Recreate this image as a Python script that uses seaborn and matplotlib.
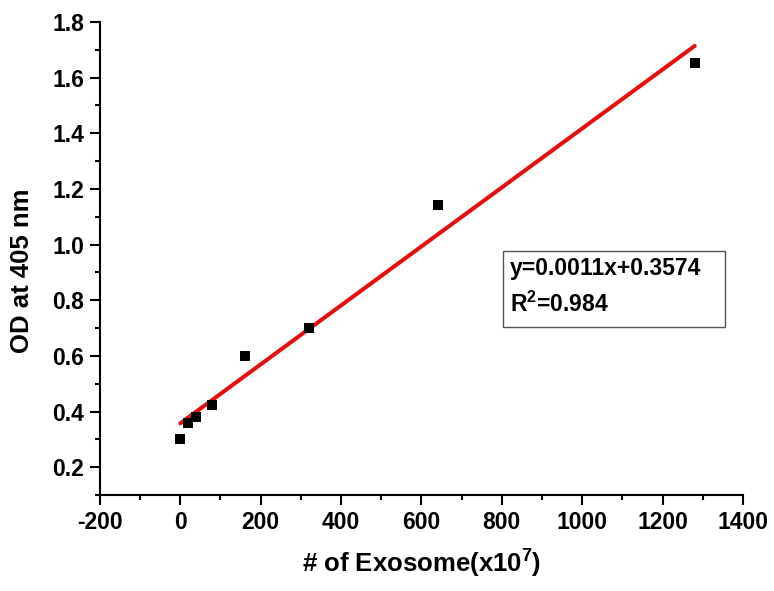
import numpy as np
import pandas as pd
import seaborn as sns
import matplotlib.pyplot as plt
from matplotlib.ticker import MultipleLocator
from matplotlib.patches import Rectangle

# Data
exosome = [0, 20, 40, 80, 160, 320, 640, 1280]
od405 = [0.30, 0.358, 0.38, 0.423, 0.60, 0.70, 1.144, 1.652]
fit_slope = 0.00106
fit_intercept = 0.3574
fit_x = [0, 1280]
eq_text = "y=0.0011x+0.3574"
r2_text = "R$^{2}$=0.984"
x_ticks = [-200, 0, 200, 400, 600, 800, 1000, 1200, 1400]
y_ticks = [0.2, 0.4, 0.6, 0.8, 1.0, 1.2, 1.4, 1.6, 1.8]

sns.set_style("ticks", {"axes.edgecolor": "black", "text.color": "black",
                        "axes.labelcolor": "black", "xtick.color": "black",
                        "ytick.color": "black"})
plt.rcParams['font.family'] = ['Liberation Sans', 'DejaVu Sans']
plt.rcParams['font.weight'] = 'bold'
plt.rcParams['axes.unicode_minus'] = False
plt.rcParams['mathtext.fontset'] = 'custom'
plt.rcParams['mathtext.rm'] = 'Liberation Sans:bold'
plt.rcParams['mathtext.it'] = 'Liberation Sans:bold'
plt.rcParams['mathtext.bf'] = 'Liberation Sans:bold'

df = pd.DataFrame({"x": exosome, "y": od405})
fit_df = pd.DataFrame({"x": fit_x, "y": [fit_slope * v + fit_intercept for v in fit_x]})

fig = plt.figure(figsize=(7.74, 5.91), dpi=100)
ax = fig.add_axes([0.129, 0.1624, 0.831, 0.8004])

sns.lineplot(data=fit_df, x="x", y="y", ax=ax, color="#e60f0f", linewidth=2.9, zorder=2)
sns.scatterplot(data=df, x="x", y="y", ax=ax, marker="s", s=55, color="black",
                edgecolor="black", linewidth=0, zorder=3)

ax.set_xlim(-200, 1400)
ax.set_ylim(0.1, 1.8)
ax.set_xticks(x_ticks)
ax.set_xticklabels([str(v) for v in x_ticks])
ax.set_yticks(y_ticks)
ax.set_yticklabels([f"{v:.1f}" for v in y_ticks])
ax.xaxis.set_minor_locator(MultipleLocator(100))
ax.yaxis.set_minor_locator(MultipleLocator(0.1))
ax.tick_params(which="major", direction="out", length=7.2, width=1.5, labelsize=16.5,
               pad=4, color="black", labelcolor="black")
ax.tick_params(which="minor", direction="out", length=3.8, width=1.5, color="black")
for lab in ax.get_xticklabels() + ax.get_yticklabels():
    lab.set_fontweight("bold")

for side in ["top", "right"]:
    ax.spines[side].set_visible(False)
for side in ["left", "bottom"]:
    ax.spines[side].set_linewidth(1.5)
    ax.spines[side].set_color("black")

ax.set_xlabel("# of Exosome(x10$^{7}$)", fontsize=18.5, fontweight="bold", color="black")
ax.set_ylabel("OD at 405 nm", fontsize=18.5, fontweight="bold", color="black")
ax.xaxis.set_label_coords(0.5, -0.112)
ax.yaxis.set_label_coords(-0.103, 0.474)

ax.add_patch(Rectangle((0.6267, 0.3552), 0.3453, 0.1607, transform=ax.transAxes,
                       facecolor="white", edgecolor="#555555", linewidth=1.0, zorder=4))
ax.text(0.6376, 0.465, eq_text, transform=ax.transAxes, fontsize=16.5, color="black",
        fontweight="bold", va="baseline", ha="left", zorder=5)
ax.text(0.6376, 0.387, r2_text, transform=ax.transAxes, fontsize=16.5, color="black",
        fontweight="bold", va="baseline", ha="left", zorder=5)

fig.savefig("out.png", dpi=100)
